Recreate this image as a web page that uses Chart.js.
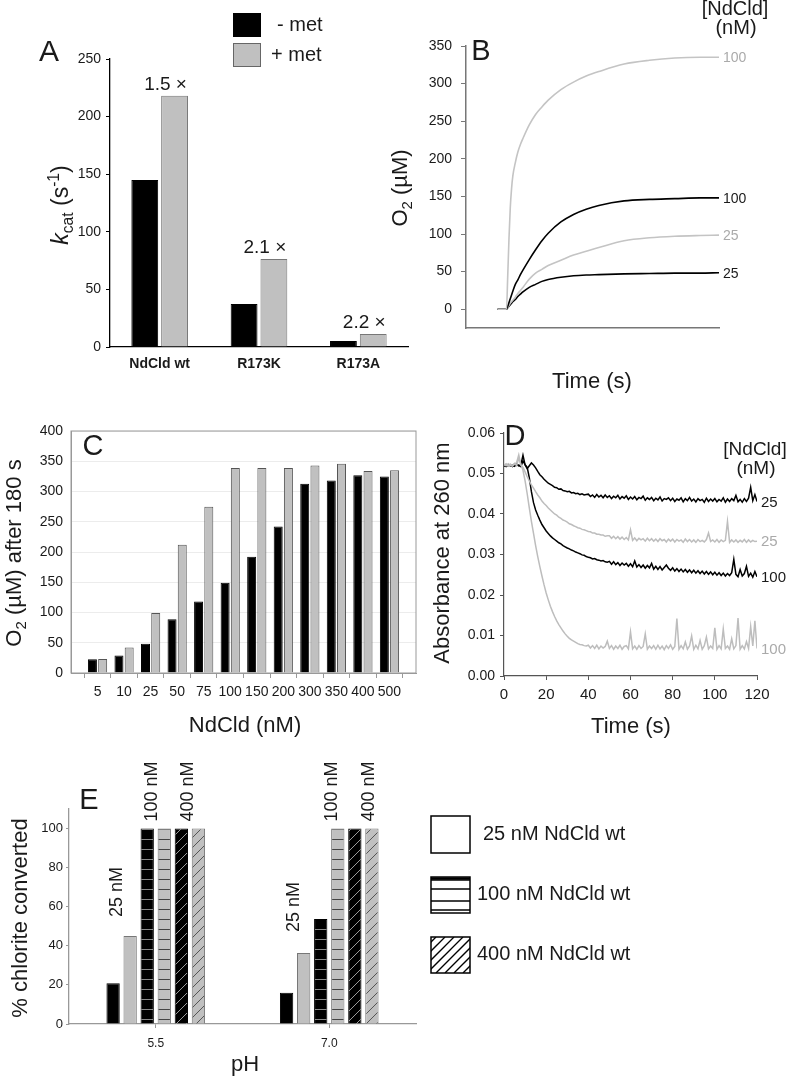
<!DOCTYPE html>
<html>
<head>
<meta charset="utf-8">
<script src="https://cdn.jsdelivr.net/npm/chart.js@4.4.1/dist/chart.umd.min.js"></script>
<style>
  body { margin: 0; background: #fff; width: 787px; height: 1076px; position: relative; overflow: hidden; }
  canvas { position: absolute; }
</style>
</head>
<body>
<canvas id="cA" style="left:0;top:0" width="420" height="400"></canvas>
<canvas id="cB" style="left:380px;top:0" width="407" height="400"></canvas>
<canvas id="cC" style="left:0;top:400px" width="430" height="340"></canvas>
<canvas id="cD" style="left:420px;top:400px" width="367" height="340"></canvas>
<canvas id="cE" style="left:0;top:740px" width="787" height="336"></canvas>
<script>
// ---- panel A: kcat ----
const groupsA = ['NdCld wt', 'R173K', 'R173A'];
const kcatNoMet = [145, 37.3, 5.2];
const kcatMet = [218, 76.4, 11.3];
const foldA = ['1.5 ×', '2.1 ×', '2.2 ×'];

// ---- panel B: O2 traces ----
const timeB = [0, 7, 8, 9, 10, 11, 12, 14, 16, 18, 20, 25, 30, 35, 40, 50, 60, 70, 80, 100, 120, 140, 160, 175];
const o2Met100 = [0, 0, 45, 95, 135, 160, 177, 195, 209, 219, 227, 245, 259, 269, 278, 292, 302, 310, 316, 326, 331, 334, 335, 335];
const o2NoMet100 = [0, 0, 4, 9, 14, 19, 24, 33, 39, 46, 52, 66, 79, 91, 101, 116, 126, 133, 138, 144, 146, 147, 148, 148];
const o2Met25 = [0, 0, 2, 5, 8, 10, 12, 16, 21, 25, 29, 40, 48, 53, 58, 65, 72, 77, 82, 91, 95, 97, 98, 98.5];
const o2NoMet25 = [0, 0, 2, 4, 6, 8, 10, 13, 17, 20, 23, 29, 33, 37, 39.5, 42.5, 44.5, 45.5, 46, 47, 47.5, 48, 48, 48.5];
const labelsB = ['100', '100', '25', '25'];

// ---- panel C: O2 after 180 s ----
const concC = ['5', '10', '25', '50', '75', '100', '150', '200', '300', '350', '400', '500'];
const o2cNoMet = [22.6, 29, 48.5, 89, 118, 149, 192, 242, 313, 318, 327, 325];
const o2cMet = [23, 42, 99, 212, 275, 339, 339, 339, 343, 346, 334, 335];

// ---- panel D: absorbance at 260 nm ----
const timeD = [0,1,2,3,4,5,6,7,8,9,10,11,12,13,14,15,16,17,18,19,20,21,22,23,24,25,26,27,28,29,30,31,32,33,34,35,36,37,38,39,40,41,42,43,44,45,46,47,48,49,50,51,52,53,54,55,56,57,58,59,60,61,62,63,64,65,66,67,68,69,70,71,72,73,74,75,76,77,78,79,80,81,82,83,84,85,86,87,88,89,90,91,92,93,94,95,96,97,98,99,100,101,102,103,104,105,106,107,108,109,110,111,112,113,114,115,116,117,118,119,120];
const absNoMet25 = [
  .0518,.0521,.0519,.0522,.0517,.0520,.0523,.0519,.0521,.0545,
  .0521,.0512,.0519,.0526,.0521,.0514,.0505,.0497,.0492,.0486,
  .0481,.0476,.0473,.0470,.0466,.0465,.0461,.0462,.0458,.0457,
  .0455,.0456,.0452,.0453,.0450,.0451,.0448,.0450,.0447,.0448,
  .0449,.0443,.0447,.0441,.0448,.0442,.0446,.0440,.0447,.0441,
  .0445,.0438,.0444,.0440,.0446,.0437,.0443,.0439,.0445,.0436,
  .0442,.0437,.0443,.0435,.0441,.0438,.0444,.0434,.0440,.0436,
  .0441,.0433,.0439,.0435,.0442,.0432,.0438,.0436,.0440,.0433,
  .0439,.0431,.0437,.0434,.0440,.0430,.0438,.0433,.0441,.0432,
  .0437,.0430,.0438,.0433,.0436,.0429,.0439,.0431,.0437,.0432,
  .0438,.0430,.0436,.0432,.0440,.0429,.0437,.0431,.0438,.0433,
  .0446,.0430,.0436,.0429,.0438,.0431,.0439,.0466,.0433,.0448,
  .0431];
const absMet25 = [
  .0522,.0519,.0524,.0520,.0518,.0523,.0527,.0546,.0521,.0515,
  .0504,.0492,.0482,.0472,.0464,.0455,.0447,.0440,.0432,.0426,
  .0421,.0415,.0410,.0405,.0400,.0397,.0392,.0389,.0385,.0383,
  .0380,.0376,.0374,.0371,.0369,.0366,.0365,.0362,.0361,.0359,
  .0357,.0356,.0353,.0353,.0350,.0350,.0348,.0348,.0345,.0346,
  .0346,.0340,.0345,.0339,.0344,.0338,.0343,.0337,.0342,.0336,
  .0361,.0335,.0341,.0334,.0340,.0336,.0339,.0333,.0340,.0334,
  .0339,.0333,.0338,.0332,.0339,.0334,.0337,.0331,.0338,.0333,
  .0338,.0331,.0337,.0333,.0336,.0330,.0338,.0332,.0337,.0331,
  .0336,.0330,.0337,.0332,.0335,.0331,.0337,.0353,.0332,.0336,
  .0331,.0337,.0330,.0336,.0332,.0335,.0382,.0330,.0336,.0331,
  .0336,.0330,.0335,.0331,.0337,.0330,.0336,.0331,.0335,.0332,
  .0333];
const absNoMet100 = [
  .0520,.0517,.0522,.0519,.0521,.0518,.0523,.0520,.0517,.0531,
  .0522,.0515,.0490,.0455,.0428,.0410,.0397,.0385,.0374,.0366,
  .0358,.0352,.0346,.0341,.0337,.0333,.0329,.0326,.0322,.0319,
  .0316,.0314,.0311,.0309,.0306,.0304,.0302,.0299,.0298,.0295,
  .0293,.0292,.0289,.0290,.0287,.0286,.0284,.0285,.0282,.0281,
  .0283,.0276,.0282,.0275,.0280,.0273,.0279,.0274,.0278,.0271,
  .0277,.0270,.0284,.0269,.0275,.0268,.0274,.0266,.0273,.0267,
  .0278,.0264,.0271,.0263,.0270,.0262,.0268,.0274,.0266,.0261,
  .0267,.0259,.0265,.0258,.0264,.0257,.0263,.0256,.0262,.0255,
  .0261,.0254,.0260,.0253,.0259,.0252,.0258,.0251,.0257,.0250,
  .0256,.0249,.0255,.0248,.0254,.0247,.0253,.0248,.0255,.0288,
  .0251,.0245,.0263,.0247,.0253,.0271,.0246,.0254,.0244,.0258,
  .0245];
const absMet100 = [
  .0521,.0524,.0518,.0523,.0520,.0525,.0519,.0538,.0522,.0508,
  .0482,.0450,.0415,.0382,.0352,.0322,.0295,.0270,.0247,.0225,
  .0205,.0188,.0172,.0159,.0147,.0136,.0127,.0119,.0111,.0104,
  .0098,.0093,.0089,.0086,.0083,.0080,.0078,.0077,.0075,.0074,
  .0076,.0069,.0075,.0068,.0076,.0067,.0074,.0069,.0073,.0086,
  .0068,.0075,.0066,.0074,.0068,.0076,.0066,.0073,.0075,.0067,
  .0109,.0067,.0074,.0066,.0075,.0068,.0073,.0104,.0066,.0074,
  .0068,.0075,.0066,.0076,.0067,.0074,.0065,.0075,.0068,.0077,
  .0066,.0073,.0142,.0066,.0075,.0067,.0084,.0066,.0074,.0099,
  .0066,.0076,.0067,.0088,.0066,.0075,.0096,.0067,.0074,.0068,
  .0119,.0066,.0075,.0067,.0116,.0068,.0074,.0066,.0092,.0067,
  .0075,.0143,.0066,.0075,.0067,.0085,.0068,.0122,.0074,.0136,
  .0068];
const labelsD = ['25', '25', '100', '100'];

// ---- panel E: % chlorite converted ----
const phE = ['5.5', '7.0'];
const conv25NoMet = [20.8, 16];
const conv25Met = [45, 36.3];
const conv100NoMet = [100, 53.7];
const conv100Met = [100, 100];
const conv400NoMet = [100, 100];
const conv400Met = [100, 100];
const legendE = ['25 nM NdCld wt', '100 nM NdCld wt', '400 nM NdCld wt'];

const FAM = '"Liberation Sans", Arial, Helvetica, sans-serif';
const INK = '#1a1a1a';
const GREY = '#c0c0c0';
const LGREY = '#bdbdbd';
Chart.defaults.font.family = FAM;
Chart.defaults.color = INK;
Chart.defaults.animation = false;
Chart.defaults.responsive = false;
Chart.defaults.devicePixelRatio = 1;
Chart.defaults.plugins.legend.display = false;
Chart.defaults.plugins.tooltip.enabled = false;

const fixW = w => s => { s.width = w; };
const fixH = h => s => { s.height = h; };

// text with italic / sub / sup parts
function drawRich(ctx, parts, x, y, size, opt) {
  opt = opt || {};
  ctx.save();
  ctx.translate(x, y);
  if (opt.rot) ctx.rotate(opt.rot);
  const fontFor = k => {
    const s = (k === 'sub' || k === 'sup') ? size * 0.68 : size;
    return (k === 'i' ? 'italic ' : '') + (opt.bold ? 'bold ' : '') + s + 'px ' + FAM;
  };
  let w = 0;
  parts.forEach(p => { ctx.font = fontFor(p[1]); w += ctx.measureText(p[0]).width; });
  let cx = opt.align === 'left' ? 0 : opt.align === 'right' ? -w : -w / 2;
  ctx.fillStyle = opt.color || INK;
  ctx.textBaseline = 'middle';
  ctx.textAlign = 'left';
  parts.forEach(p => {
    ctx.font = fontFor(p[1]);
    const dy = p[1] === 'sub' ? size * 0.3 : p[1] === 'sup' ? -size * 0.32 : 0;
    ctx.fillText(p[0], cx, dy);
    cx += ctx.measureText(p[0]).width;
  });
  ctx.restore();
}
const txt = (ctx, s, x, y, size, opt) => drawRich(ctx, [[s, '']], x, y, size, opt);
const decor = fn => ({ id: 'decor', afterDraw: chart => fn(chart, chart.ctx) });
const UP = -Math.PI / 2;

function patternH(bg, fg) {
  const c = document.createElement('canvas');
  c.width = 10; c.height = 10;
  const g = c.getContext('2d');
  g.fillStyle = bg; g.fillRect(0, 0, 10, 10);
  g.strokeStyle = fg; g.lineWidth = 1;
  g.beginPath(); g.moveTo(0, 9.5); g.lineTo(10, 9.5); g.stroke();
  return g.createPattern(c, 'repeat');
}
function patternD(bg, fg) {
  const c = document.createElement('canvas');
  c.width = 10; c.height = 10;
  const g = c.getContext('2d');
  g.fillStyle = bg; g.fillRect(0, 0, 10, 10);
  g.strokeStyle = fg; g.lineWidth = 1;
  g.beginPath();
  g.moveTo(0, 10); g.lineTo(10, 0);
  g.moveTo(-5, 5); g.lineTo(5, -5);
  g.moveTo(5, 15); g.lineTo(15, 5);
  g.stroke();
  return g.createPattern(c, 'repeat');
}

// ================= A =================
new Chart(document.getElementById('cA'), {
  type: 'bar',
  data: {
    labels: groupsA,
    datasets: [
      { data: kcatNoMet, backgroundColor: '#000', borderColor: '#000', borderWidth: 1, categoryPercentage: 0.6, barPercentage: 0.9 },
      { data: kcatMet, backgroundColor: GREY, borderColor: '#777', borderWidth: 1, categoryPercentage: 0.6, barPercentage: 0.9 }
    ]
  },
  options: {
    layout: { padding: { top: 59, right: 12 } },
    scales: {
      x: {
        grid: { drawOnChartArea: false, drawTicks: false },
        border: { color: '#000', width: 1.3 },
        ticks: { font: { size: 14, weight: 'bold' }, padding: 9 },
        afterFit: fixH(53)
      },
      y: {
        min: 0, max: 250,
        ticks: { stepSize: 50, font: { size: 14 }, padding: 5 },
        grid: { drawOnChartArea: false, tickLength: 4, color: '#000' },
        border: { color: '#000', width: 1.3 },
        afterFit: fixW(110)
      }
    }
  },
  plugins: [decor((chart, ctx) => {
    chart.getDatasetMeta(1).data.forEach((bar, i) => txt(ctx, foldA[i], bar.x - 9, bar.y - 11, 19));
    txt(ctx, 'A', 49, 53, 30);
    drawRich(ctx, [['k', 'i'], ['cat', 'sub'], [' (s', ''], ['-1', 'sup'], [')', '']], 62, 205, 23, { rot: UP });
    ctx.fillStyle = '#000';
    ctx.fillRect(233, 13, 28, 24);
    ctx.fillStyle = GREY; ctx.strokeStyle = '#666'; ctx.lineWidth = 1;
    ctx.fillRect(233.5, 43.5, 27, 23); ctx.strokeRect(233.5, 43.5, 27, 23);
    txt(ctx, '- met', 277, 25, 20, { align: 'left' });
    txt(ctx, '+ met', 271, 55, 20, { align: 'left' });
  })]
});

// ================= B =================
const lineB = (vals, color) => ({
  data: timeB.map((t, i) => ({ x: t, y: vals[i] })),
  borderColor: color, borderWidth: 1.6, pointRadius: 0, fill: false,
  cubicInterpolationMode: 'monotone'
});
new Chart(document.getElementById('cB'), {
  type: 'line',
  data: {
    datasets: [
      lineB(o2Met100, '#c4c4c4'),
      lineB(o2NoMet100, '#000'),
      lineB(o2Met25, '#c4c4c4'),
      lineB(o2NoMet25, '#000')
    ]
  },
  options: {
    layout: { padding: { top: 46, right: 68 } },
    scales: {
      x: {
        type: 'linear', min: -25, max: 175,
        afterBuildTicks: s => { s.ticks = s.ticks.filter(t => t.value >= 0 && t.value % 50 === 0); },
        ticks: { stepSize: 50, font: { size: 14 }, padding: 8 },
        grid: { drawOnChartArea: false, tickLength: 5, color: '#777' },
        border: { color: '#777', width: 1.5 },
        afterFit: fixH(72)
      },
      y: {
        min: -25, max: 350,
        afterBuildTicks: s => { s.ticks = s.ticks.filter(t => t.value >= 0); },
        ticks: { stepSize: 50, font: { size: 14 }, padding: 9 },
        grid: { drawOnChartArea: false, tickLength: 5, color: '#777' },
        border: { color: '#777', width: 1.5 },
        afterFit: fixW(86)
      }
    }
  },
  plugins: [decor((chart, ctx) => {
    chart.data.datasets.forEach((ds, i) => {
      const pts = chart.getDatasetMeta(i).data;
      const last = pts[pts.length - 1];
      txt(ctx, labelsB[i], last.x + 4, last.y + 1, 14, { align: 'left', color: ds.borderColor === '#000' ? INK : '#aaa' });
    });
    txt(ctx, 'B', 101, 52, 29);
    txt(ctx, '[NdCld]', 355, 9, 20);
    txt(ctx, '(nM)', 356, 28, 20);
    drawRich(ctx, [['O', ''], ['2', 'sub'], [' (µM)', '']], 21, 188, 22, { rot: UP });
    txt(ctx, 'Time (s)', 212, 382, 22);
  })]
});

// ================= C =================
new Chart(document.getElementById('cC'), {
  type: 'bar',
  data: {
    labels: ['', ...concC, ''],
    datasets: [
      { data: [null, ...o2cNoMet, null], backgroundColor: '#000', borderColor: '#000', borderWidth: 1, categoryPercentage: 0.77, barPercentage: 0.88 },
      { data: [null, ...o2cMet, null], backgroundColor: GREY, borderColor: '#555', borderWidth: 1, categoryPercentage: 0.77, barPercentage: 0.88 }
    ]
  },
  options: {
    layout: { padding: { top: 31, right: 14 } },
    scales: {
      x: {
        offset: false,
        ticks: { font: { size: 14 }, padding: 6, autoSkip: false, maxRotation: 0 },
        grid: { drawOnChartArea: false, tickLength: 5, color: '#999' },
        border: { color: '#999', width: 1 },
        afterFit: fixH(67)
      },
      y: {
        min: 0, max: 400,
        ticks: { stepSize: 50, font: { size: 14 }, padding: 8 },
        grid: { color: '#ececec', drawTicks: false },
        border: { color: '#999', width: 1 },
        afterFit: fixW(71)
      }
    }
  },
  plugins: [decor((chart, ctx) => {
    const a = chart.chartArea;
    ctx.save();
    ctx.strokeStyle = '#999'; ctx.lineWidth = 1;
    ctx.strokeRect(a.left, a.top, a.right - a.left, a.bottom - a.top);
    ctx.restore();
    txt(ctx, 'C', 93, 47, 29);
    drawRich(ctx, [['O', ''], ['2', 'sub'], [' (µM) after 180 s', '']], 15, 153, 22, { rot: UP });
    txt(ctx, 'NdCld (nM)', 245, 326, 22);
  })]
});

// ================= D =================
const lineD = (vals, color) => ({
  data: timeD.map((t, i) => ({ x: t, y: vals[i] })),
  borderColor: color, borderWidth: 1.5, pointRadius: 0, fill: false, tension: 0
});
new Chart(document.getElementById('cD'), {
  type: 'line',
  data: {
    datasets: [
      lineD(absMet100, LGREY),
      lineD(absMet25, LGREY),
      lineD(absNoMet100, '#000'),
      lineD(absNoMet25, '#000')
    ]
  },
  options: {
    layout: { padding: { top: 33, right: 30 } },
    scales: {
      x: {
        type: 'linear', min: 0, max: 120,
        ticks: { stepSize: 20, font: { size: 15 }, padding: 6 },
        grid: { drawOnChartArea: false, tickLength: 4, color: '#555' },
        border: { color: '#555', width: 1.2 },
        afterFit: fixH(64)
      },
      y: {
        min: 0, max: 0.06,
        ticks: { stepSize: 0.01, font: { size: 14 }, padding: 5, callback: v => v.toFixed(2) },
        grid: { drawOnChartArea: false, tickLength: 4, color: '#555' },
        border: { color: '#555', width: 1.2 },
        afterFit: fixW(84)
      }
    }
  },
  plugins: [decor((chart, ctx) => {
    const order = [3, 1, 2, 0];
    order.forEach((di, k) => {
      const pts = chart.getDatasetMeta(di).data;
      const last = pts[pts.length - 1];
      const ds = chart.data.datasets[di];
      txt(ctx, labelsD[k], last.x + 4, last.y + 1, 15, { align: 'left', color: ds.borderColor === '#000' ? INK : '#aaa' });
    });
    txt(ctx, 'D', 95, 37, 29);
    txt(ctx, '[NdCld]', 335, 50, 19);
    txt(ctx, '(nM)', 336, 69, 19);
    txt(ctx, 'Absorbance at 260 nm', 23, 153, 22, { rot: UP });
    txt(ctx, 'Time (s)', 211, 327, 22);
  })]
});

// ================= E =================
const barE = (vals, fill, border) => ({
  data: vals, backgroundColor: fill, borderColor: border, borderWidth: 1,
  categoryPercentage: 0.59, barPercentage: 0.78
});
const annE = [
  { t: '25 nM', cat: 0, ds: 1, dx: -13, gap: 19 },
  { t: '100 nM', cat: 0, ds: 2, dx: 5, gap: 7 },
  { t: '400 nM', cat: 0, ds: 4, dx: 7, gap: 7 },
  { t: '25 nM', cat: 1, ds: 1, dx: -10, gap: 21 },
  { t: '100 nM', cat: 1, ds: 3, dx: -6, gap: 7 },
  { t: '400 nM', cat: 1, ds: 5, dx: -3, gap: 7 }
];
new Chart(document.getElementById('cE'), {
  type: 'bar',
  data: {
    labels: phE,
    datasets: [
      barE(conv25NoMet, '#000', '#000'),
      barE(conv25Met, GREY, '#777'),
      barE(conv100NoMet, patternH('#000', '#8a8a8a'), '#000'),
      barE(conv100Met, patternH(GREY, '#444'), '#777'),
      barE(conv400NoMet, patternD('#000', '#9a9a9a'), '#000'),
      barE(conv400Met, patternD(GREY, '#555'), '#777')
    ]
  },
  options: {
    layout: { padding: { top: 69, right: 371 } },
    scales: {
      x: {
        ticks: { font: { size: 12 }, padding: 8 },
        grid: { offset: false, drawOnChartArea: false, tickLength: 4, color: '#999' },
        border: { color: '#999', width: 1.3 },
        afterFit: fixH(52)
      },
      y: {
        min: 0, max: 110,
        afterBuildTicks: s => { s.ticks = s.ticks.filter(t => t.value <= 100); },
        ticks: { stepSize: 20, font: { size: 13 }, padding: 3 },
        grid: { drawOnChartArea: false, tickLength: 3, color: '#999' },
        border: { color: '#999', width: 1.3 },
        afterFit: fixW(69)
      }
    }
  },
  plugins: [decor((chart, ctx) => {
    annE.forEach(a => {
      const bar = chart.getDatasetMeta(a.ds).data[a.cat];
      txt(ctx, a.t, bar.x + a.dx, bar.y - a.gap, 18, { rot: UP, align: 'left' });
    });
    txt(ctx, 'E', 89, 61, 29);
    txt(ctx, '% chlorite converted', 21, 178, 22, { rot: UP });
    txt(ctx, 'pH', 245, 325, 22);

    // legend boxes
    ctx.save();
    ctx.strokeStyle = '#000'; ctx.lineWidth = 1.5;
    ctx.strokeRect(431, 76, 39, 37);
    ctx.strokeRect(431, 137, 39, 36);
    [140, 149, 161, 170].forEach(y => { ctx.beginPath(); ctx.moveTo(431, y); ctx.lineTo(470, y); ctx.stroke(); });
    ctx.lineWidth = 2.5;
    ctx.beginPath(); ctx.moveTo(431, 138.5); ctx.lineTo(470, 138.5); ctx.stroke();
    ctx.lineWidth = 1.5;
    ctx.strokeRect(431, 197, 39, 36);
    ctx.beginPath(); ctx.rect(431, 197, 39, 36); ctx.clip();
    ctx.lineWidth = 1.3;
    for (let k = -40; k < 60; k += 9) {
      ctx.beginPath(); ctx.moveTo(431 + k, 233); ctx.lineTo(431 + k + 36, 197); ctx.stroke();
    }
    ctx.restore();
    txt(ctx, legendE[0], 483, 94, 20, { align: 'left' });
    txt(ctx, legendE[1], 477, 154, 20, { align: 'left' });
    txt(ctx, legendE[2], 477, 214, 20, { align: 'left' });
  })]
});
</script>
</body>
</html>
